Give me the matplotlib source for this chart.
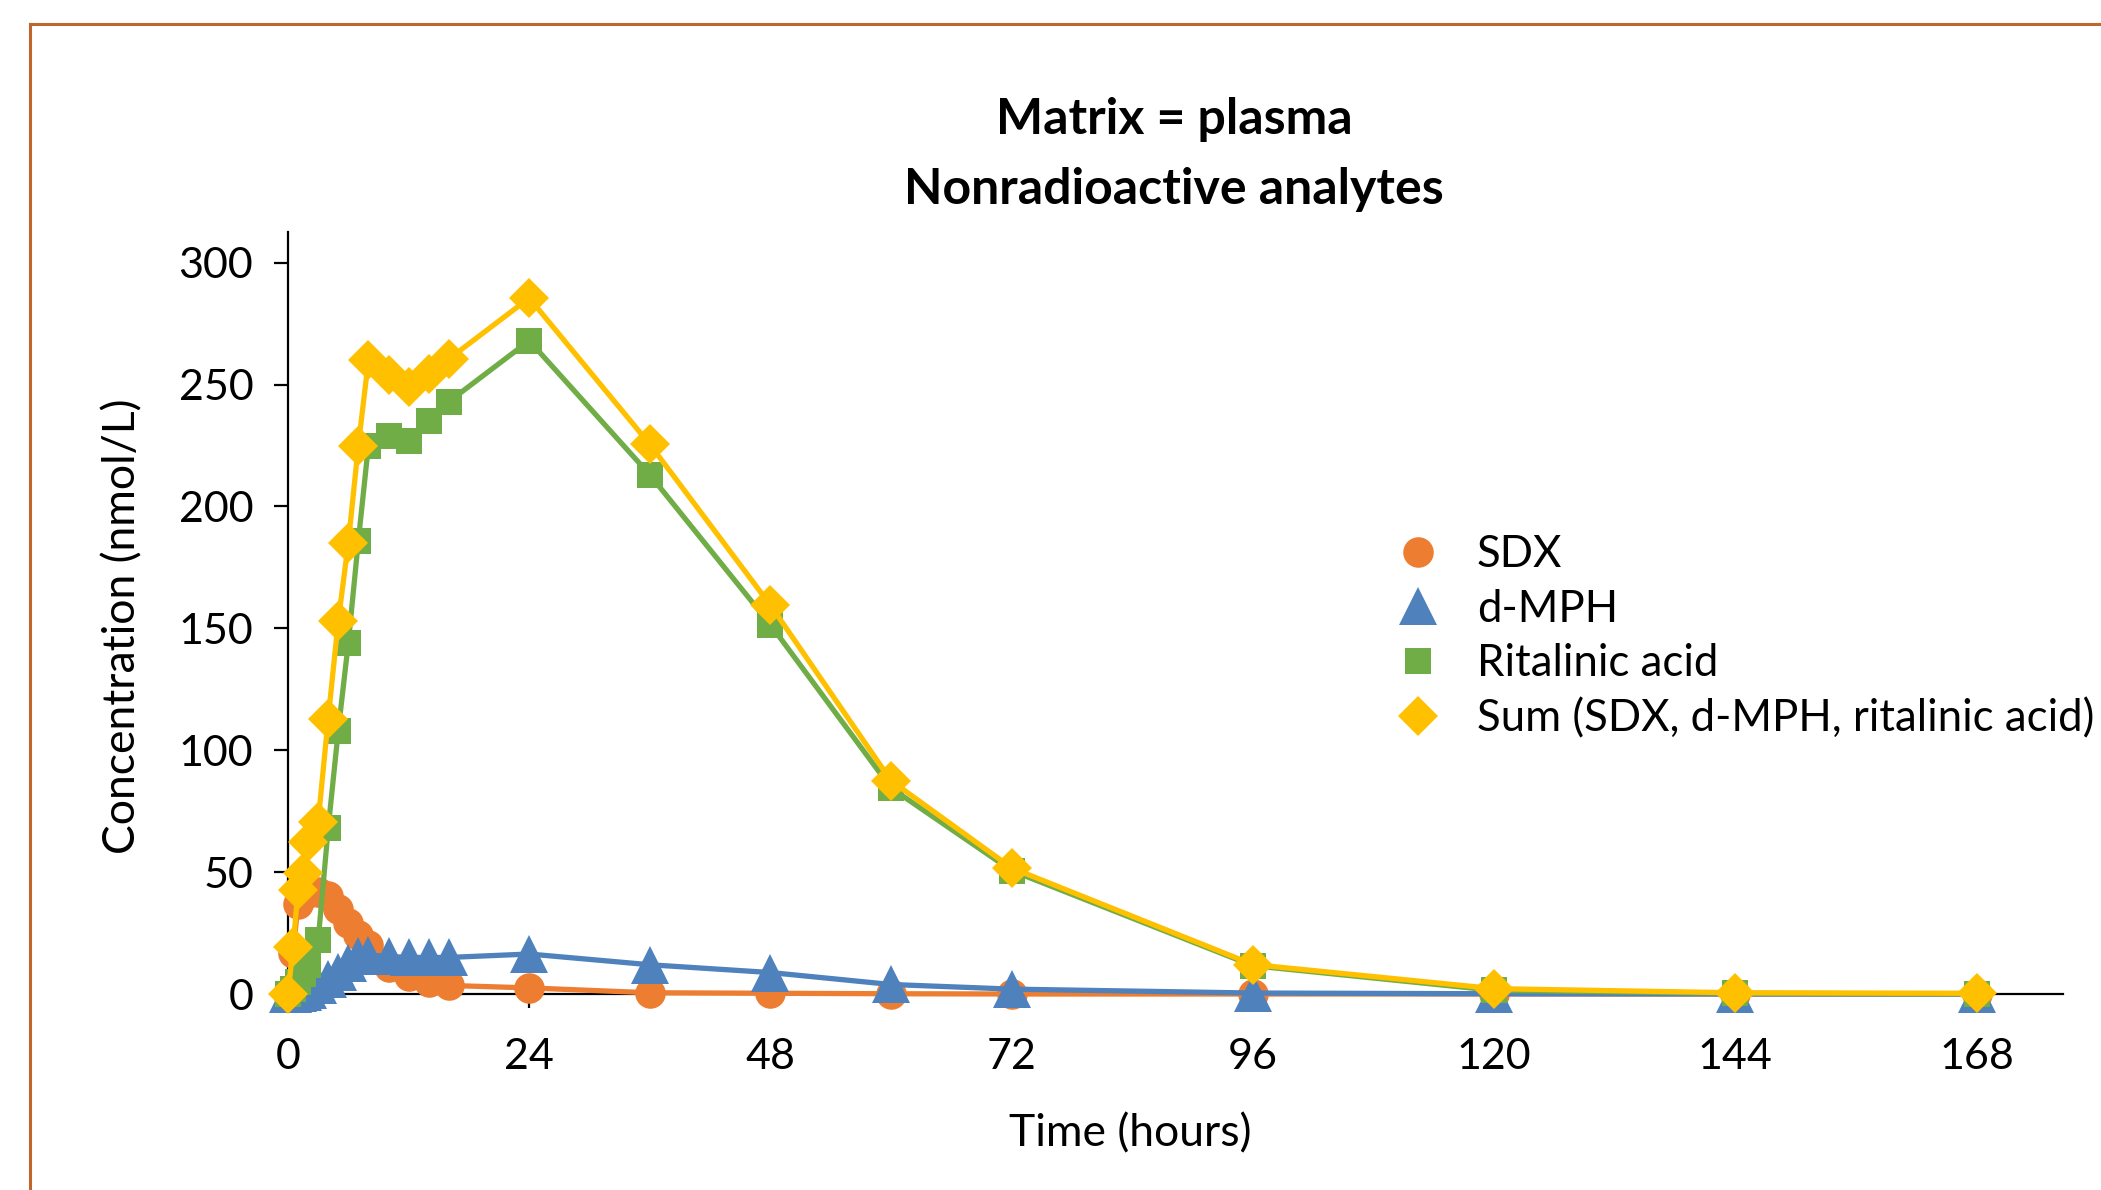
import matplotlib.pyplot as plt
from matplotlib.lines import Line2D

plt.rcParams['font.family'] = ['Lato', 'DejaVu Sans']

# Sampling times (hours)
hours = [0, 0.5, 1, 1.5, 2, 3, 4, 5, 6, 7, 8, 10, 12, 14, 16, 24, 36, 48, 60, 72, 96, 120, 144, 168]

# Concentrations (nmol/L)
sdx = [0, 17, 37, 40, 42, 42, 40, 35, 29, 24, 20, 11, 7.5, 5, 3.5, 2.5, 0.5, 0.3, 0.1, 0, 0, 0, 0, 0]
d_mph = [0, 0, 0.5, 1, 1.7, 3.5, 6, 9.2, 12.8, 15.4, 16, 15.4, 15, 15, 15, 16.4, 12, 8.8, 3.9, 2, 0.4, 0.1, 0, 0]
ritalinic = [0, 2, 5, 8, 12, 22, 68, 108, 144, 186, 225, 229, 227, 235, 243, 268, 213, 151.5, 84.5, 50.6, 11.6, 1.5, 0.3, 0]
total = [0, 19.4, 42.7, 49.5, 62.5, 70.7, 113, 153, 185, 225, 260, 254, 249, 254.5, 260.5, 285.5, 225.5, 159.5, 87.5, 51.7, 12.1, 2.2, 0.5, 0.3]

names = ['SDX', 'd-MPH', 'Ritalinic acid', 'Sum (SDX, d-MPH, ritalinic acid)']
colors = ['#ED7D31', '#4F81BD', '#70AD47', '#FFC000']
markers = ['o', '^', 's', 'D']
msizes = [22, 28, 19, 20]

x_ticks = [0, 24, 48, 72, 96, 120, 144, 168]
y_ticks = [0, 50, 100, 150, 200, 250, 300]

fig = plt.figure(figsize=(21.01, 11.90), dpi=100)
ax = fig.add_axes([288 / 2101, 196 / 1190, (2063 - 288) / 2101, (994 - 232) / 1190])

for y, name, c, m, ms in zip([sdx, d_mph, ritalinic, total], names, colors, markers, msizes):
    ax.plot(hours, y, color=c, lw=3.8, marker=m, markersize=ms, markeredgewidth=0,
            label=name, clip_on=False)

ax.set_xlim(0, 176.6)
ax.set_ylim(0, 312.6)
ax.set_xticks(x_ticks)
ax.set_yticks(y_ticks)
ax.spines['top'].set_visible(False)
ax.spines['right'].set_visible(False)
for s in ['left', 'bottom']:
    ax.spines[s].set_linewidth(1.6)
    ax.spines[s].set_zorder(0.5)
ax.tick_params(axis='both', direction='out', length=10, width=1.6, labelsize=31)
ax.tick_params(axis='x', pad=22)
ax.tick_params(axis='y', pad=15)

ax.set_xlabel('Time (hours)', fontsize=32, va='center')
ax.xaxis.set_label_coords(0.4745, -0.184)
ax.set_ylabel('Concentration (nmol/L)', fontsize=32, va='center')
ax.yaxis.set_label_coords(-0.093, 0.483)

fig.text(0.5588, 0.900, 'Matrix = plasma', ha='center', va='center', fontsize=36, fontweight='bold')
fig.text(0.5588, 0.8405, 'Nonradioactive analytes', ha='center', va='center', fontsize=36, fontweight='bold')

handles = [Line2D([], [], color=c, marker=m, markersize=ms, linestyle='none', markeredgewidth=0)
           for c, m, ms in zip(colors, markers, msizes)]
fig.legend(handles, names, loc='center left', bbox_to_anchor=(1396 / 2101, 0.465),
           frameon=False, fontsize=31.5, handlelength=1.0, handletextpad=0.85,
           labelspacing=0.31, borderpad=0, borderaxespad=0)

# orange chart-area border (top and left)
bc = '#C0652B'
fig.add_artist(Line2D([29.5 / 2101, 1.0], [1 - 24 / 1190, 1 - 24 / 1190], color=bc, lw=2.2))
fig.add_artist(Line2D([29.5 / 2101, 29.5 / 2101], [0, 1 - 24 / 1190], color=bc, lw=2.2))

fig.savefig('out.png', dpi=100)
